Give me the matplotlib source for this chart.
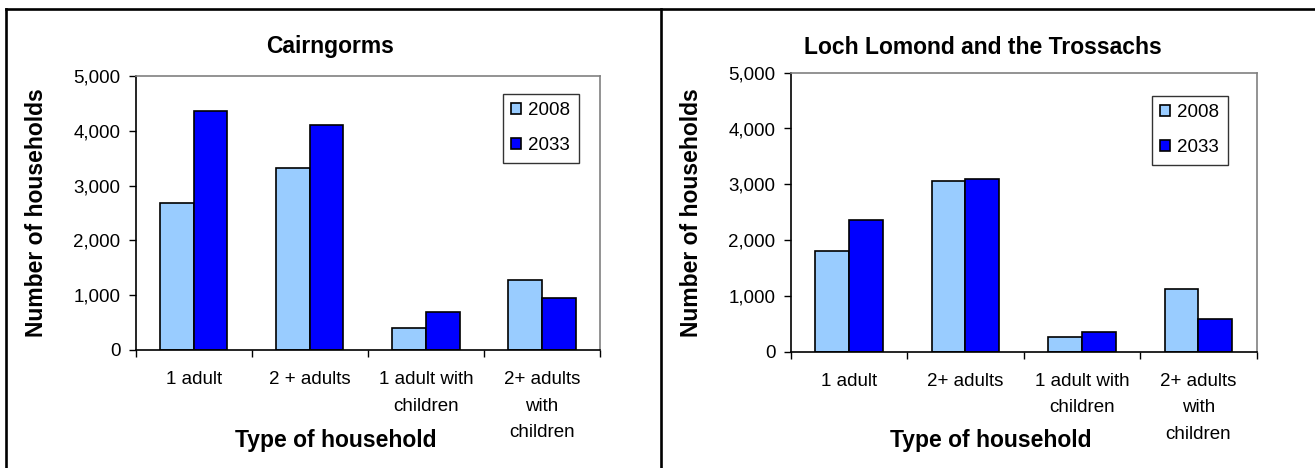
import numpy as np
import matplotlib
matplotlib.use("Agg")
import matplotlib.pyplot as plt
from matplotlib.lines import Line2D

plt.rcParams['font.family'] = ['Liberation Sans', 'DejaVu Sans']

# Data
years = ["2008", "2033"]
cairn_labels = ["1 adult", "2 + adults", "1 adult with\nchildren", "2+ adults\nwith\nchildren"]
cairn_2008 = [2690, 3320, 400, 1280]
cairn_2033 = [4370, 4110, 690, 955]

loch_labels = ["1 adult", "2+ adults", "1 adult with\nchildren", "2+ adults\nwith\nchildren"]
loch_2008 = [1810, 3065, 270, 1130]
loch_2033 = [2360, 3100, 360, 580]

light = "#99CCFF"
dark = "#0000FF"
W, H = 1315, 468

fig = plt.figure(figsize=(W / 100, H / 100), dpi=100)


def panel(rect, labels, v1, v2, title, title_x, xlabel_x):
    ax = fig.add_axes(rect)
    x = np.arange(len(labels))
    bw = 0.29
    ax.bar(x - bw / 2, v1, bw, color=light, edgecolor="black", linewidth=1.2, label=years[0])
    ax.bar(x + bw / 2, v2, bw, color=dark, edgecolor="black", linewidth=1.2, label=years[1])
    ax.set_xlim(-0.5, len(labels) - 0.5)
    ax.set_ylim(0, 5000)
    ax.set_yticks(np.arange(0, 5001, 1000))
    ax.set_yticklabels([f"{v:,}" for v in range(0, 5001, 1000)])
    ax.set_xticks(x)
    ax.set_xticklabels(labels, linespacing=1.75)
    ax.set_xticks(np.arange(-0.5, len(labels)), minor=True)
    ax.tick_params(axis="x", which="major", length=0, pad=15, labelsize=13.5)
    ax.tick_params(axis="x", which="minor", length=5, direction="out", width=1)
    ax.tick_params(axis="y", length=5, direction="out", width=1, pad=6, labelsize=13.5)
    for s in ["top", "right"]:
        ax.spines[s].set_color("#808080")
        ax.spines[s].set_linewidth(1.2)
    for s in ["left", "bottom"]:
        ax.spines[s].set_color("black")
        ax.spines[s].set_linewidth(1.2)
    ax.set_ylabel("Number of households", fontsize=16.5, fontweight="bold")
    ax.yaxis.set_label_coords(-0.188, 0.5)
    fig.text(title_x / W, 1 - 47 / H, title, fontsize=16.5, fontweight="bold",
             ha="center", va="center")
    fig.text(xlabel_x / W, 1 - 440 / H, "Type of household", fontsize=16.5,
             fontweight="bold", ha="center", va="center")
    return ax


ax1 = panel([135.7 / W, 1 - 350 / H, 464.3 / W, 274 / H],
            cairn_labels, cairn_2008, cairn_2033, "Cairngorms", 330, 336)
ax2 = panel([790.7 / W, 1 - 351.7 / H, 466 / W, 279 / H],
            loch_labels, loch_2008, loch_2033, "Loch Lomond and the Trossachs", 983, 991)

# legends placed in figure pixels
for ax, (lx, ly) in [(ax1, (503, 94)), (ax2, (1152, 96))]:
    leg = ax.legend(loc="upper left", bbox_to_anchor=(lx / W, 1 - ly / H),
                    bbox_transform=fig.transFigure, fontsize=13.5, frameon=True,
                    fancybox=False, handlelength=0.5, handleheight=0.5,
                    handletextpad=0.4, labelspacing=0.95, borderpad=0.45,
                    borderaxespad=0)
    leg.get_frame().set_edgecolor("black")
    leg.get_frame().set_linewidth(1.0)

# outer frame and divider
lw = 1.9
fig.add_artist(Line2D([6 / W, 6 / W], [0, 1 - 8.5 / H], transform=fig.transFigure, color="black", lw=lw))
fig.add_artist(Line2D([6 / W, 1], [1 - 8.5 / H, 1 - 8.5 / H], transform=fig.transFigure, color="black", lw=lw))
fig.add_artist(Line2D([661 / W, 661 / W], [0, 1 - 8.5 / H], transform=fig.transFigure, color="black", lw=lw))

fig.savefig("out.png", dpi=100)
